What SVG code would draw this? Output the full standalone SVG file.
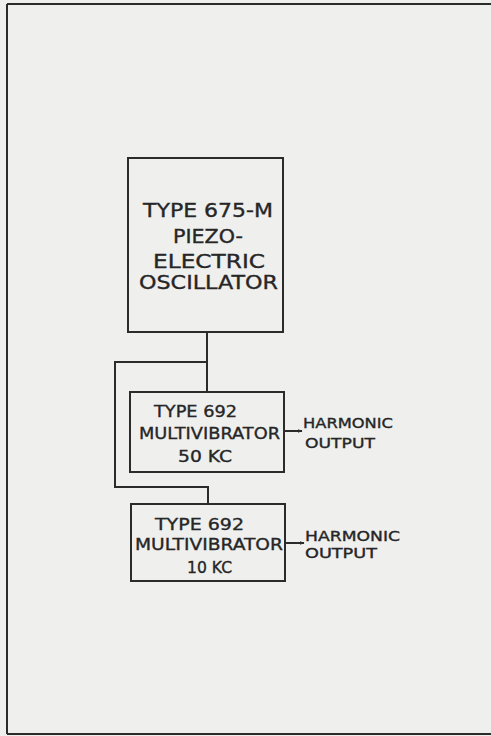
<svg xmlns="http://www.w3.org/2000/svg" width="491" height="736" viewBox="0 0 491 736">
<defs>
<style>
.bx{fill:none;stroke:#2b2b2b;stroke-width:2}
.ln{fill:none;stroke:#2b2b2b;stroke-width:2}
.t{font-family:"DejaVu Sans","Liberation Sans",sans-serif;fill:#262626;stroke:#262626;stroke-width:0.35}
.big{font-size:19px}
.mid{font-size:16px}
.sm{font-size:14px}
.xs{font-size:13.5px}
</style>
<marker id="ah" viewBox="0 0 10 10" refX="9" refY="5" markerWidth="5" markerHeight="5" orient="auto" markerUnits="userSpaceOnUse">
<path d="M0,1 L10,5 L0,9 Z" fill="#2b2b2b"/>
</marker>
</defs>
<rect width="491" height="736" fill="#efefee"/>
<g id="frame" class="ln">
<line x1="7" y1="4" x2="491" y2="4"/>
<line x1="7" y1="4" x2="7" y2="734"/>
<line x1="7" y1="734" x2="491" y2="734"/>
</g>
<g id="connectors">
<polyline class="ln" points="207,332 207,392"/>
<polyline class="ln" points="207,362 115,362 115,487 208,487 208,504"/>
<line class="ln" x1="284" y1="431" x2="302" y2="431" marker-end="url(#ah)"/>
<line class="ln" x1="285" y1="543" x2="304" y2="543" marker-end="url(#ah)"/>
</g>
<g id="oscillator">
<rect class="bx" x="128" y="158" width="155" height="174"/>
<text class="t big" x="143" y="217" textLength="130" lengthAdjust="spacingAndGlyphs">TYPE 675-M</text>
<text class="t big" x="173" y="243" textLength="70" lengthAdjust="spacingAndGlyphs">PIEZO-</text>
<text class="t big" x="153" y="268" textLength="112" lengthAdjust="spacingAndGlyphs">ELECTRIC</text>
<text class="t big" x="139" y="289" textLength="139" lengthAdjust="spacingAndGlyphs">OSCILLATOR</text>
</g>
<g id="mv50">
<rect class="bx" x="130" y="392" width="154" height="80"/>
<text class="t mid" x="154" y="417" textLength="83" lengthAdjust="spacingAndGlyphs">TYPE 692</text>
<text class="t mid" x="139" y="439" textLength="141" lengthAdjust="spacingAndGlyphs">MULTIVIBRATOR</text>
<text class="t mid" x="178" y="462" textLength="54" lengthAdjust="spacingAndGlyphs">50 KC</text>
</g>
<g id="out50">
<text class="t sm" x="303" y="428" textLength="90" lengthAdjust="spacingAndGlyphs">HARMONIC</text>
<text class="t sm" x="305" y="448" textLength="70" lengthAdjust="spacingAndGlyphs">OUTPUT</text>
</g>
<g id="mv10">
<rect class="bx" x="131" y="504" width="154" height="77"/>
<text class="t mid" x="155" y="530" textLength="89" lengthAdjust="spacingAndGlyphs">TYPE 692</text>
<text class="t mid" x="135" y="550" textLength="148" lengthAdjust="spacingAndGlyphs">MULTIVIBRATOR</text>
<text class="t mid" x="187" y="573" textLength="45" lengthAdjust="spacingAndGlyphs">10 KC</text>
</g>
<g id="out10">
<text class="t xs" x="305" y="541" textLength="95" lengthAdjust="spacingAndGlyphs">HARMONIC</text>
<text class="t xs" x="305" y="558" textLength="72" lengthAdjust="spacingAndGlyphs">OUTPUT</text>
</g>
</svg>
